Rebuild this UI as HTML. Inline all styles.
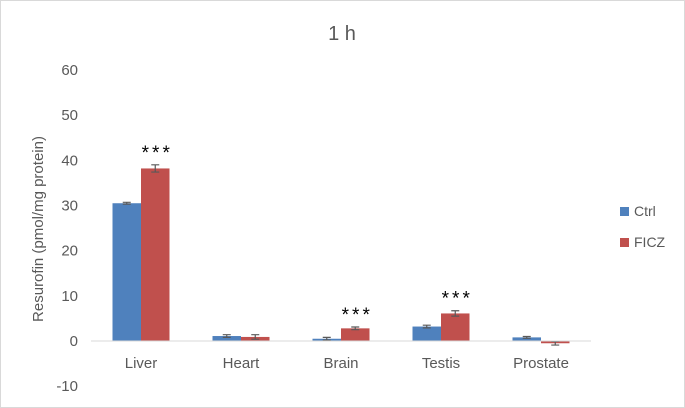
<!DOCTYPE html>
<html><head><meta charset="utf-8"><style>
body{margin:0;background:#fff;}
svg{display:block;font-family:"Liberation Sans",Arial,sans-serif;}
</style></head><body>
<svg width="685" height="408">
<rect x="0.5" y="0.5" width="684" height="407" fill="#fff" stroke="#d9d9d9"/>
<text x="342" y="40" text-anchor="middle" font-size="20" fill="#595959">1 h</text>
<text transform="translate(43,229) rotate(-90)" text-anchor="middle" font-size="15" fill="#595959">Resurofin (pmol/mg protein)</text>
<g id="yticks"></g>
<g id="bars"></g>
<g id="xlabels"></g>
<g>
<rect x="620" y="207" width="9" height="9" fill="#4f81bd"/>
<text x="634" y="216" font-size="14" fill="#595959">Ctrl</text>
<rect x="620" y="238" width="9" height="9" fill="#c0504d"/>
<text x="634" y="247" font-size="14" fill="#595959">FICZ</text>
</g>
</svg>
<script>
const categories=["Liver","Heart","Brain","Testis","Prostate"];
const ctrlValues=[30.5,1.1,0.5,3.2,0.8];
const ficzValues=[38.2,0.9,2.8,6.1,-0.5];
const ctrlErr=[0.2,0.3,0.3,0.3,0.2];
const ficzErr=[0.8,0.5,0.3,0.6,0.4];
const significance=["***","","***","***",""];
const yTicks=[-10,0,10,20,30,40,50,60];
const NS="http://www.w3.org/2000/svg";
const y=v=>341-v*4.517;
const x0=91, band=100, bw=28.5;
function mk(tag,attrs,parent){const e=document.createElementNS(NS,tag);for(const k in attrs)e.setAttribute(k,attrs[k]);parent.appendChild(e);return e;}
const yt=document.getElementById('yticks');
yTicks.forEach(t=>{const e=mk('text',{x:78,y:y(t)+5,'text-anchor':'end','font-size':15,fill:'#595959'},yt);


e.textContent=t;});
const bars=document.getElementById('bars');
const xl=document.getElementById('xlabels');
categories.forEach((c,i)=>{
 const cx=x0+band*i+band/2;
 [[ctrlValues,ctrlErr,'#4f81bd',cx-bw,'ctrl'],[ficzValues,ficzErr,'#c0504d',cx,'ficz']].forEach(([vals,errs,col,bx,nm])=>{
  const v=vals[i];const top=Math.min(y(v),y(0));const h=Math.abs(y(v)-y(0));
  const r=mk('rect',{x:bx,y:top,width:bw,height:Math.max(h,0.5),fill:col},bars);
  
  
  const ex=bx+bw/2,e1=y(v+errs[i]),e2=y(v-errs[i]);
  const g=mk('path',{d:`M${ex},${e1}V${e2}M${ex-4},${e1}H${ex+4}M${ex-4},${e2}H${ex+4}`,stroke:'#595959','stroke-width':1.2,fill:'none'},bars);
  
  
 });
 if(significance[i]){const s=mk('text',{x:cx+bw/2+2,y:y(ficzValues[i]+ficzErr[i])-6,'text-anchor':'middle','font-size':19,'letter-spacing':'3',fill:'#000'},bars);
  
  
  s.textContent=significance[i];}
 const t=mk('text',{x:cx,y:368,'text-anchor':'middle','font-size':15,fill:'#595959'},xl);
 
 
 t.textContent=c;
});
const ax=mk('line',{x1:x0,x2:x0+band*5,y1:y(0),y2:y(0),stroke:'#d9d9d9','stroke-width':1},bars);


</script>
</body></html>
